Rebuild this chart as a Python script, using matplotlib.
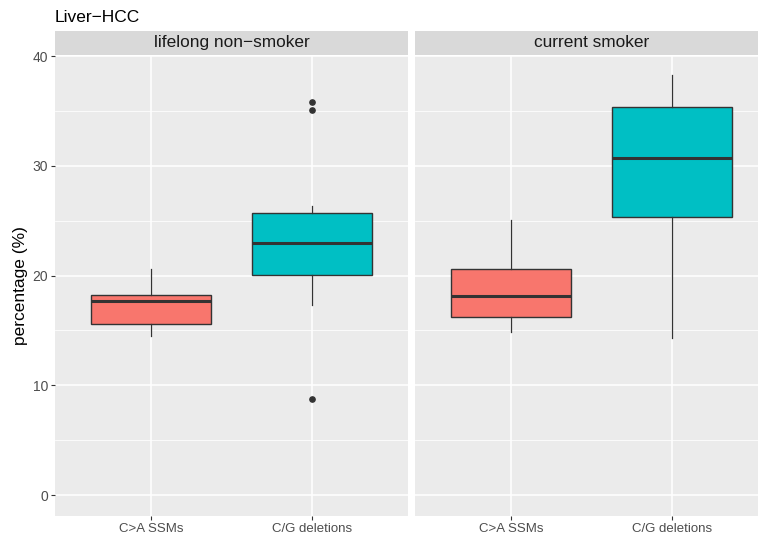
import matplotlib
matplotlib.use("Agg")
import matplotlib.pyplot as plt
from matplotlib.ticker import MultipleLocator

plt.rcParams['font.family'] = ['Liberation Sans', 'DejaVu Sans']

# data (box stats per facet)
facets = ['lifelong non\u2212smoker', 'current smoker']
categories = ['C>A SSMs', 'C/G deletions']
colors = ['#F8766D', '#00BFC4']

q1 = [[15.55, 20.06], [16.26, 25.30]]
med = [[17.69, 22.98], [18.14, 30.75]]
q3 = [[18.26, 25.69], [20.61, 35.40]]
whislo = [[14.49, 17.35], [14.89, 14.27]]
whishi = [[20.61, 26.33], [25.08, 38.24]]
fliers = [[[], [8.77, 35.07, 35.8]], [[], []]]

W, H = 758, 538
fig = plt.figure(figsize=(W / 100, H / 100), dpi=100)

panel_left = [55, 415]
panel_w = 353
top, bottom = 56, 516
strip_top = 31

for i, name in enumerate(facets):
    ax = fig.add_axes([panel_left[i] / W, 1 - bottom / H, panel_w / W, (bottom - top) / H])
    ax.set_facecolor('#EBEBEB')
    for s in ax.spines.values():
        s.set_visible(False)
    ax.set_xlim(0.4, 2.6)
    ax.set_ylim(-1.9, 40.0)
    ax.yaxis.set_major_locator(MultipleLocator(10))
    ax.yaxis.set_minor_locator(MultipleLocator(5))
    ax.grid(True, which='major', color='white', lw=1.1)
    ax.grid(True, which='minor', axis='y', color='white', lw=0.55)
    ax.set_axisbelow(True)

    stats = []
    for j in range(2):
        stats.append(dict(q1=q1[i][j], med=med[i][j], q3=q3[i][j],
                          whislo=whislo[i][j], whishi=whishi[i][j],
                          fliers=fliers[i][j]))
    bp = ax.bxp(stats, positions=[1, 2], widths=0.75, patch_artist=True,
                showcaps=False,
                boxprops=dict(edgecolor='#333333', lw=1.0),
                whiskerprops=dict(color='#333333', lw=0.9),
                medianprops=dict(color='#333333', lw=2.2),
                flierprops=dict(marker='o', markerfacecolor='#333333',
                                markeredgecolor='#333333', markersize=3.8))
    for patch, c in zip(bp['boxes'], colors):
        patch.set_facecolor(c)

    ax.set_xticks([1, 2])
    ax.set_xticklabels(categories, fontsize=9.5, color='#4D4D4D')
    ax.tick_params(axis='x', length=3, color='#333333', pad=2)
    ax.tick_params(axis='y', which='minor', length=0)
    if i == 0:
        ax.set_yticks([0, 10, 20, 30, 40])
        ax.tick_params(axis='y', length=3, color='#333333', labelsize=10,
                       labelcolor='#4D4D4D', pad=2)
        ax.set_ylabel('percentage (%)', fontsize=12.5, labelpad=3)
    else:
        ax.tick_params(axis='y', length=0, labelleft=False)

    # facet strip
    sax = fig.add_axes([panel_left[i] / W, 1 - (top - 1) / H, panel_w / W, (top - 1 - strip_top) / H])
    sax.set_facecolor('#D9D9D9')
    sax.set_xticks([])
    sax.set_yticks([])
    for s in sax.spines.values():
        s.set_visible(False)
    sax.text(0.5, 0.5, name, ha='center', va='center', fontsize=12.4,
             color='#1A1A1A', transform=sax.transAxes)

fig.text(55 / W, 1 - 17.5 / H, 'Liver\u2212HCC', ha='left', va='center', fontsize=12.5)

fig.savefig('out.png', dpi=100)
